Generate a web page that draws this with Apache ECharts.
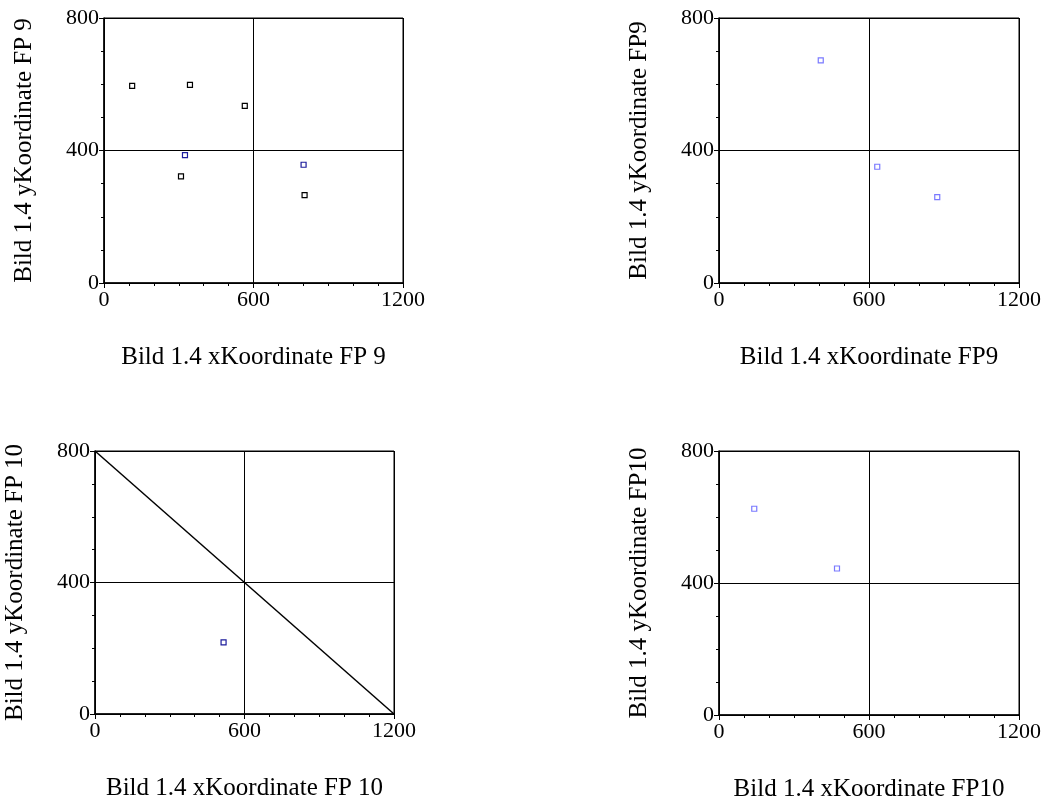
<!DOCTYPE html>
<html>
<head>
<meta charset="utf-8">
<script src="https://cdn.jsdelivr.net/npm/echarts@6/dist/echarts.min.js"></script>
<style>
  html, body { margin: 0; padding: 0; background: #fff; }
  #chart { width: 1045px; height: 798px; }
</style>
</head>
<body>
<div id="chart"></div>
<script>
// Panel titles (axis names)
const xNames = ['Bild 1.4 xKoordinate FP 9', 'Bild 1.4 xKoordinate FP9', 'Bild 1.4 xKoordinate FP 10', 'Bild 1.4 xKoordinate FP10'];
const yNames = ['Bild 1.4 yKoordinate FP 9', 'Bild 1.4 yKoordinate FP9', 'Bild 1.4 yKoordinate FP 10', 'Bild 1.4 yKoordinate FP10'];

// Panel 1: FP 9 points (black and dark blue)
const fp9Black = [[113, 595], [345, 598], [565, 535], [309, 322], [805, 265]];
const fp9Blue = [[325, 386], [801, 357]];
// Panel 2: FP9 points
const fp9Light = [[407, 672], [633, 351], [873, 259]];
// Panel 3: FP 10 point and reference diagonal
const fp10Blue = [[516, 218]];
const fp10Diagonal = [[0, 800], [1200, 0]];
// Panel 4: FP10 points
const fp10Light = [[141, 625], [472, 444]];

const X_MIN = 0, X_MAX = 1200, X_STEP = 600;
const Y_MIN = 0, Y_MAX = 800, Y_STEP = 400;

const FONT = '"Liberation Serif", "Times New Roman", serif';
const grids = [
  { left: 104, top: 18, width: 299, height: 265 },
  { left: 719, top: 18, width: 300, height: 265 },
  { left: 95, top: 451, width: 299, height: 263 },
  { left: 719, top: 451, width: 300, height: 264 }
].map(g => Object.assign({
  show: true, borderColor: '#000', borderWidth: 1, backgroundColor: 'transparent',
  containLabel: false, outerBoundsMode: 'none'
}, g));

function xAxis(i) {
  return {
    type: 'value', gridIndex: i, min: X_MIN, max: X_MAX, interval: X_STEP,
    name: xNames[i], nameLocation: 'middle', nameGap: 62,
    nameTextStyle: { fontFamily: FONT, fontSize: 25, color: '#000' },
    axisLine: { show: true, lineStyle: { color: '#000', width: 1.5 } },
    axisTick: { show: true, length: 5, lineStyle: { color: '#000' } },
    minorTick: { show: true, splitNumber: 6, length: 3, lineStyle: { color: '#000' } },
    axisLabel: { fontFamily: FONT, fontSize: 22, color: '#000', margin: 6, formatter: v => String(v) },
    splitLine: { show: true, lineStyle: { color: '#000', width: 1 } }
  };
}
function yAxis(i) {
  return {
    type: 'value', gridIndex: i, min: Y_MIN, max: Y_MAX, interval: Y_STEP,
    name: yNames[i], nameLocation: 'middle', nameGap: 67, nameRotate: 90,
    nameTextStyle: { fontFamily: FONT, fontSize: 25, color: '#000' },
    axisLine: { show: true, lineStyle: { color: '#000', width: 1.5 } },
    axisTick: { show: true, length: 5, lineStyle: { color: '#000' } },
    minorTick: { show: true, splitNumber: 4, length: 3, lineStyle: { color: '#000' } },
    axisLabel: { fontFamily: FONT, fontSize: 22, color: '#000', margin: 5, formatter: v => String(v) },
    splitLine: { show: true, lineStyle: { color: '#000', width: 1 } }
  };
}

function points(i, data, color) {
  return {
    type: 'scatter', xAxisIndex: i, yAxisIndex: i, data: data,
    symbol: 'rect', symbolSize: 5,
    itemStyle: { color: '#fff', borderColor: color, borderWidth: 1.2, opacity: 1 },
    silent: true, z: 5
  };
}

const chart = echarts.init(document.getElementById('chart'), null, { renderer: 'canvas' });
chart.setOption({
  animation: false,
  backgroundColor: '#fff',
  grid: grids,
  xAxis: [0, 1, 2, 3].map(xAxis),
  yAxis: [0, 1, 2, 3].map(yAxis),
  series: [
    points(0, fp9Black, '#000000'),
    points(0, fp9Blue, '#1c1c9c'),
    points(1, fp9Light, '#7a7aff'),
    {
      type: 'line', xAxisIndex: 2, yAxisIndex: 2, data: fp10Diagonal,
      symbol: 'none', lineStyle: { color: '#000', width: 1.5 }, silent: true, z: 3
    },
    points(2, fp10Blue, '#1c1c9c'),
    points(3, fp10Light, '#7a7aff')
  ]
});
</script>
</body>
</html>
